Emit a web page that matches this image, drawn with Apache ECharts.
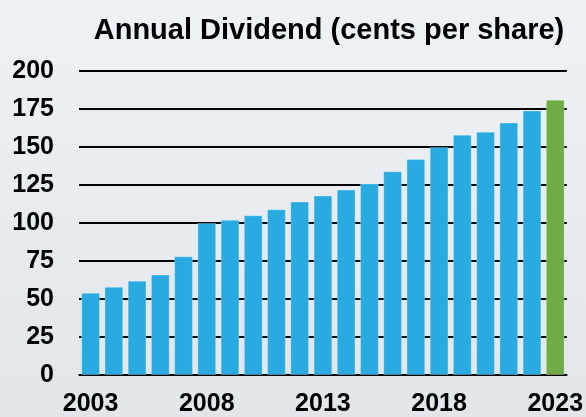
<!DOCTYPE html>
<html><head><meta charset="utf-8">
<script src="https://cdn.jsdelivr.net/npm/echarts@6/dist/echarts.min.js"></script>
<style>html,body{margin:0;padding:0;}#c{width:586px;height:417px;}</style>
</head><body><div id="c"></div>
<script>
const years = ['2003','2004','2005','2006','2007','2008','2009','2010','2011','2012','2013','2014','2015','2016','2017','2018','2019','2020','2021','2022','2023'];
const dividends = [54,58,62,66,78,100,102,105,109,114,118,122,126,134,142,150,158,160,166,174,181];
const yTicks = [0,25,50,75,100,125,150,175,200];
const title = 'Annual Dividend (cents per share)';
const blue = '#29abe2', green = '#6fac46';

const chart = echarts.init(document.getElementById('c'));
chart.setOption({
  backgroundColor: new echarts.graphic.LinearGradient(0,0,0,1,[{offset:0,color:'#eef1f5'},{offset:1,color:'#e2e6ea'}]),
  animation: false,
  title: { text: title, left: 324, top: 11, textAlign: 'center',
    textStyle: { fontFamily: 'Liberation Sans, Arial, sans-serif', fontWeight: 'bold', fontSize: 29, color: '#000' } },
  grid: { left: 79, right: 17, top: 71, bottom: 42 },
  xAxis: { type: 'category', data: years,
    axisLine: { show: true, lineStyle: { color: '#000', width: 1.5 } },
    axisTick: { show: false },
    axisLabel: { interval: 4, margin: 17, fontFamily: 'Liberation Sans, Arial, sans-serif', fontWeight: 'bold', fontSize: 25, color: '#000' } },
  yAxis: { type: 'value', min: 0, max: 200, interval: 25,
    axisLine: { show: false }, axisTick: { show: false },
    splitLine: { lineStyle: { color: '#000', width: 2 } },
    axisLabel: { margin: 25, fontFamily: 'Liberation Sans, Arial, sans-serif', fontWeight: 'bold', fontSize: 25, color: '#000' } },
  series: [{ type: 'bar', barCategoryGap: '20%',
    data: dividends.map((v,i) => ({ value: v, itemStyle: { color: i === dividends.length-1 ? green : blue } })),
    itemStyle: { borderColor: 'rgba(255,255,255,0.35)', borderWidth: 0.8 } }]
});
</script></body></html>
